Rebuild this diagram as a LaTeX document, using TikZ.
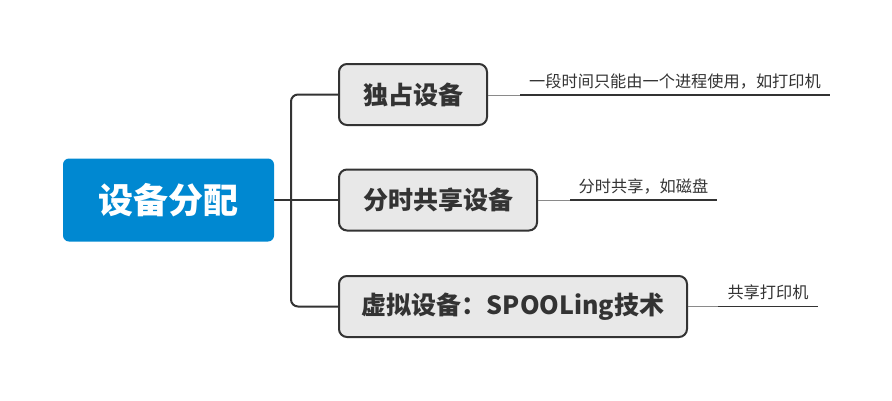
\documentclass[tikz,border=0pt]{standalone}
\usepackage{fontspec}
\usetikzlibrary{calc}
\setmainfont{Noto Sans CJK SC}
\definecolor{rootblue}{HTML}{0088D1}
\definecolor{boxgray}{HTML}{E8E8E8}
\definecolor{dark}{HTML}{333333}
\definecolor{leadgray}{HTML}{8A8A8A}
\begin{document}
\begin{tikzpicture}[x=1pt,y=-1pt,
  rootbox/.style={fill=rootblue, rounded corners=6pt, minimum width=211pt, minimum height=83pt,
    text=white, font=\fontsize{35}{40}\selectfont\bfseries, inner sep=0pt},
  childbox/.style={fill=boxgray, draw=dark, line width=2pt, rounded corners=8pt, minimum height=61pt,
    text=dark, font=\fontsize{25}{28}\selectfont\bfseries, inner sep=0pt},
  conn/.style={draw=dark, line width=2pt},
  leadline/.style={draw=leadgray, line width=1pt},
  underline/.style={draw=dark, line width=1.6pt},
  notetext/.style={text=dark, font=\fontsize{16.2}{19}\selectfont, anchor=south, inner sep=0pt, yshift=6pt}
]
\useasboundingbox (0,0) rectangle (892,400);

\node[rootbox] (root) at (168.5,200) {设备分配};
\node[childbox, minimum width=148pt] (c1) at (413,94.5) {独占设备};
\node[childbox, minimum width=198pt] (c2) at (438,200) {分时共享设备};
\node[childbox, minimum width=348pt] (c3) at (513,306.5) {虚拟设备：SPOOLing技术};

\coordinate (j) at (291,200);
\draw[conn] (root.east) -- (j);
\draw[conn, rounded corners=7pt] (c1.west) -- (291,94.5) -- (291,306.5) -- (c3.west);
\draw[conn] (j) -- (c2.west);

% notes
\coordinate (n1a) at (520,95);
\coordinate (n1b) at (830,95);
\draw[leadline] (c1.east |- n1a) -- (n1a);
\draw[underline] (n1a) -- (n1b);
\node[notetext] (t1) at ($(n1a)!0.5!(n1b)$) {一段时间只能由一个进程使用，如打印机};

\coordinate (n2a) at (570,200);
\coordinate (n2b) at (717,200);
\draw[leadline] (c2.east) -- (n2a);
\draw[underline] (n2a) -- (n2b);
\node[notetext] (t2) at ($(n2a)!0.5!(n2b)$) {分时共享，如磁盘};

\coordinate (n3a) at (718,306.5);
\coordinate (n3b) at (818,306.5);
\draw[leadline] (c3.east) -- (n3a);
\draw[underline] (n3a) -- (n3b);
\node[notetext] (t3) at ($(n3a)!0.5!(n3b)$) {共享打印机};
\end{tikzpicture}
\end{document}
